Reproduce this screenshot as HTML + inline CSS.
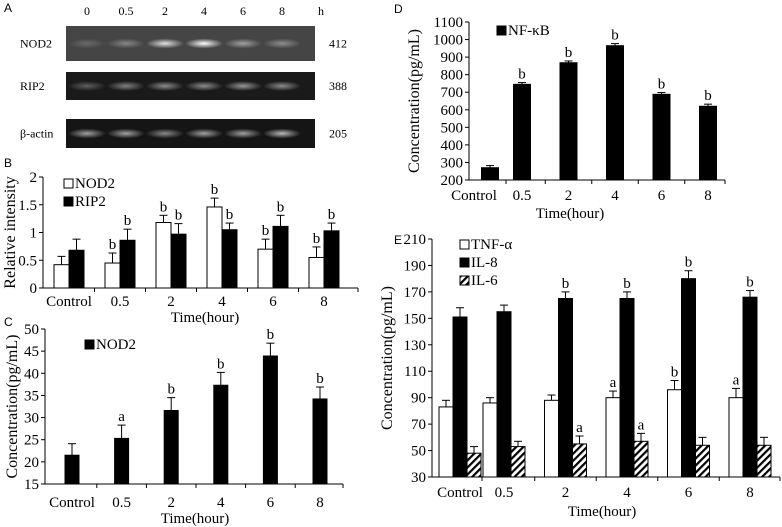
<!DOCTYPE html>
<html><head><meta charset="utf-8">
<style>
html,body{margin:0;padding:0;background:#fff;}
svg{display:block;font-family:"Liberation Serif",serif;}
.lt{font-family:"Liberation Sans",sans-serif;font-size:12px;}
</style></head>
<body>
<svg id="fig" width="782" height="527" viewBox="0 0 782 527" xmlns="http://www.w3.org/2000/svg">
<defs>
<pattern id="hatch" patternUnits="userSpaceOnUse" width="5" height="5" patternTransform="rotate(45)">
<rect width="5" height="5" fill="#fff"/><rect width="2.2" height="5" fill="#000"/>
</pattern>
<radialGradient id="band" cx="50%" cy="50%" r="50%"><stop offset="0" stop-color="#fff" stop-opacity="1"/><stop offset="1" stop-color="#fff" stop-opacity="0"/></radialGradient>
</defs>
<g id="panelA"></g>
<g id="charts"></g>
</svg>
<script>
// ---------- data ----------
const catsB = ["Control","0.5","2","4","6","8"];
const nod2B = [0.42,0.45,1.18,1.46,0.70,0.55];
const nod2BErr = [0.15,0.18,0.13,0.16,0.18,0.19];
const rip2B = [0.68,0.86,0.97,1.05,1.11,1.03];
const rip2BErr = [0.20,0.20,0.19,0.12,0.20,0.14];
const nod2BSig = ["","b","b","b","b","b"];
const rip2BSig = ["","b","b","b","b","b"];
const ticksB = [0,0.5,1,1.5,2];

const nod2C = [21.5,25.3,31.6,37.3,43.9,34.2];
const nod2CErr = [2.6,3.0,2.9,2.9,2.9,2.7];
const nod2CSig = ["","a","b","b","b","b"];
const ticksC = [15,20,25,30,35,40,45,50];

const nfkbD = [270,745,868,965,688,620];
const nfkbDErr = [12,10,10,12,10,12];
const nfkbDSig = ["","b","b","b","b","b"];
const ticksD = [200,300,400,500,600,700,800,900,1000,1100];

const tnfE = [83,86,88,90,96,90];
const tnfEErr = [5,4,4,5,7,7];
const il8E = [151,155,165,165,180,166];
const il8EErr = [7,5,5,5,6,5];
const il6E = [48,53,55,57,54,54];
const il6EErr = [5,4,6,6,6,6];
const tnfESig = ["","","","a","b","a"];
const il8ESig = ["","","b","b","b","b"];
const il6ESig = ["","","a","a","",""];
const ticksE = [30,50,70,90,110,130,150,170,190,210];

const gelLanes = ["0","0.5","2","4","6","8"];
const nod2Gel = [0.2,0.35,0.85,1.0,0.5,0.4];
const rip2Gel = [0.3,0.45,0.5,0.5,0.55,0.5];
const actinGel = [0.6,0.6,0.5,0.6,0.6,0.7];

const NS="http://www.w3.org/2000/svg";
const svg=document.getElementById('fig');
const charts=document.getElementById('charts');
function mk(tag,attrs,parent,text){const e=document.createElementNS(NS,tag);for(const k in attrs)e.setAttribute(k,attrs[k]);if(text!==undefined)e.textContent=text;(parent||svg).appendChild(e);return e;}

// ---------- panel A ----------
const pA=document.getElementById('panelA');
let t=mk('text',{x:4,y:12,class:'lt'},pA,'A');


const laneX=i=>87+39*i;
gelLanes.forEach((l,i)=>{const e=mk('text',{x:laneX(i),y:15,'font-size':12,'text-anchor':'middle'},pA,l);

});
t=mk('text',{x:318,y:15,'font-size':12},pA,'h');


const rows=[["NOD2",nod2Gel,26,35,"#454545","412"],["RIP2",rip2Gel,72,28,"#1a1a1a","388"],["β-actin",actinGel,119,29,"#151515","205"]];
rows.forEach(r=>{
 const g=mk('g',{},pA);
 
 
 mk('rect',{x:66,y:r[2],width:249,height:r[3],fill:r[4]},g);
 r[1].forEach((v,i)=>{mk('ellipse',{cx:laneX(i),cy:r[2]+r[3]/2,rx:19,ry:5,fill:'url(#band)',opacity:v},g);});
 mk('text',{x:20,y:r[2]+r[3]/2+4,'font-size':12},g,r[0]);
 mk('text',{x:329,y:r[2]+r[3]/2+4,'font-size':12},g,r[5]);
});

// ---------- generic chart ----------
function chart(cfg){
 const g=mk('g',{},charts);
 
 
 const y=v=>cfg.y0px-(v-cfg.ymin)/(cfg.ymax-cfg.ymin)*(cfg.y0px-cfg.y1px);
 const xc=cfg.xc;
 const lx=cfg.labX||xc;
 mk('line',{x1:cfg.ax,y1:cfg.y1px,x2:cfg.ax,y2:cfg.y0px,stroke:'#000','stroke-width':1},g);
 mk('line',{x1:cfg.ax,y1:cfg.y0px,x2:cfg.axEnd,y2:cfg.y0px,stroke:'#000','stroke-width':1},g);
 cfg.ticks.forEach(v=>{
  mk('line',{x1:cfg.ax-4,x2:cfg.ax,y1:y(v),y2:y(v),stroke:'#000'},g);
  const e=mk('text',{x:cfg.ax-6,y:y(v)+5,'font-size':cfg.fs,'text-anchor':'end'},g,String(v));
  
  
 });
 catsB.forEach((c,i)=>{
  if(i<catsB.length-1){const bx=(xc(i)+xc(i+1))/2;mk('line',{x1:bx,x2:bx,y1:cfg.y0px,y2:cfg.y0px+4,stroke:'#000'},g);}
  const e=mk('text',{x:lx(i),y:cfg.labY,'font-size':cfg.fs,'text-anchor':'middle'},g,c);
  
  
 });
 mk('line',{x1:cfg.axEnd,x2:cfg.axEnd,y1:cfg.y0px,y2:cfg.y0px+4,stroke:'#000'},g);
 let e=mk('text',{x:cfg.titleX,y:cfg.titleY,'font-size':cfg.fs,'text-anchor':'middle'},g,'Time(hour)');
 
 
 e=mk('text',{transform:`translate(${cfg.ytx},${(cfg.y0px+cfg.y1px)/2}) rotate(-90)`,'font-size':cfg.tfs,'text-anchor':'middle'},g,cfg.ytitle);
 
 
 e=mk('text',{x:cfg.letter[1],y:cfg.letter[2],class:'lt'},g,cfg.letter[0]);
 
 
 const n=cfg.series.length, bw=cfg.bw;
 cfg.series.forEach((s,si)=>{
  s.vals.forEach((v,i)=>{
   const left=xc(i)-n*bw/2+si*bw;
   const top=y(v), bot=cfg.y0px;
   const r=mk('rect',{x:left,y:top,width:bw,height:bot-top,fill:s.fill,stroke:'#000','stroke-width':1},g);
   
   
   const cx=left+bw/2, et=y(v+s.err[i]);
   mk('line',{x1:cx,x2:cx,y1:top,y2:et,stroke:'#000'},g);
   mk('line',{x1:cx-4,x2:cx+4,y1:et,y2:et,stroke:'#000'},g);
   if(s.sig[i]){const l=mk('text',{x:cx,y:et-4,'font-size':cfg.fs,'text-anchor':'middle'},g,s.sig[i]);
    
    }
  });
 });
 cfg.legend.forEach(L=>{
  const lg=mk('g',{},g);
  
  
  mk('rect',{x:L[1],y:L[2]-9,width:9,height:9,fill:L[3],stroke:'#000'},lg);
  mk('text',{x:L[1]+11,y:L[2],'font-size':cfg.fs},lg,L[0]);
 });
}

chart({name:'chart-b-relative-intensity',ax:43,axEnd:358,y0px:288,y1px:177,ymin:0,ymax:2,ticks:ticksB,fs:15,tfs:16,
 xc:i=>69+51*i,bw:15,labY:306,titleX:205,titleY:322,ytx:15,ytitle:'Relative intensity',letter:['B',4,167],
 series:[{key:'nod2',vals:nod2B,err:nod2BErr,sig:nod2BSig,fill:'#fff'},{key:'rip2',vals:rip2B,err:rip2BErr,sig:rip2BSig,fill:'#000'}],
 legend:[['NOD2',64,188,'#fff'],['RIP2',64,206,'#000']]});

chart({name:'chart-c-nod2-concentration',ax:45,axEnd:343,y0px:484,y1px:329,ymin:15,ymax:50,ticks:ticksC,fs:15,tfs:16,
 xc:i=>72+49.6*i,bw:14,labY:507,titleX:195,titleY:523,ytx:17,ytitle:'Concentration(pg/mL)',letter:['C',4,326],
 series:[{key:'nod2',vals:nod2C,err:nod2CErr,sig:nod2CSig,fill:'#000'}],
 legend:[['NOD2',85,349,'#000']]});

chart({name:'chart-d-nfkb-concentration',ax:469,axEnd:725,y0px:180,y1px:22,ymin:200,ymax:1100,ticks:ticksD,fs:15,tfs:16,
 xc:i=>i===0?490:522+46.5*(i-1),labX:i=>i===0?474:522+46.5*(i-1),bw:17,labY:200,titleX:570,titleY:218,ytx:419,ytitle:'Concentration(pg/mL)',letter:['D',394,13],
 series:[{key:'nfkb',vals:nfkbD,err:nfkbDErr,sig:nfkbDSig,fill:'#000'}],
 legend:[['NF-κB',497,35,'#000']]});

chart({name:'chart-e-cytokines',ax:432,axEnd:780,y0px:477,y1px:239,ymin:30,ymax:210,ticks:ticksE,fs:15,tfs:16,
 xc:i=>i===0?460:504+61.5*(i-1),bw:14,labY:497,titleX:602,titleY:516,ytx:392,ytitle:'Concentration(pg/mL)',letter:['E',394,244],
 series:[{key:'tnf',vals:tnfE,err:tnfEErr,sig:tnfESig,fill:'#fff'},{key:'il8',vals:il8E,err:il8EErr,sig:il8ESig,fill:'#000'},{key:'il6',vals:il6E,err:il6EErr,sig:il6ESig,fill:'url(#hatch)'}],
 legend:[['TNF-α',460,249,'#fff'],['IL-8',460,267,'#000'],['IL-6',460,285,'url(#hatch)']]});
</script>
</body></html>
